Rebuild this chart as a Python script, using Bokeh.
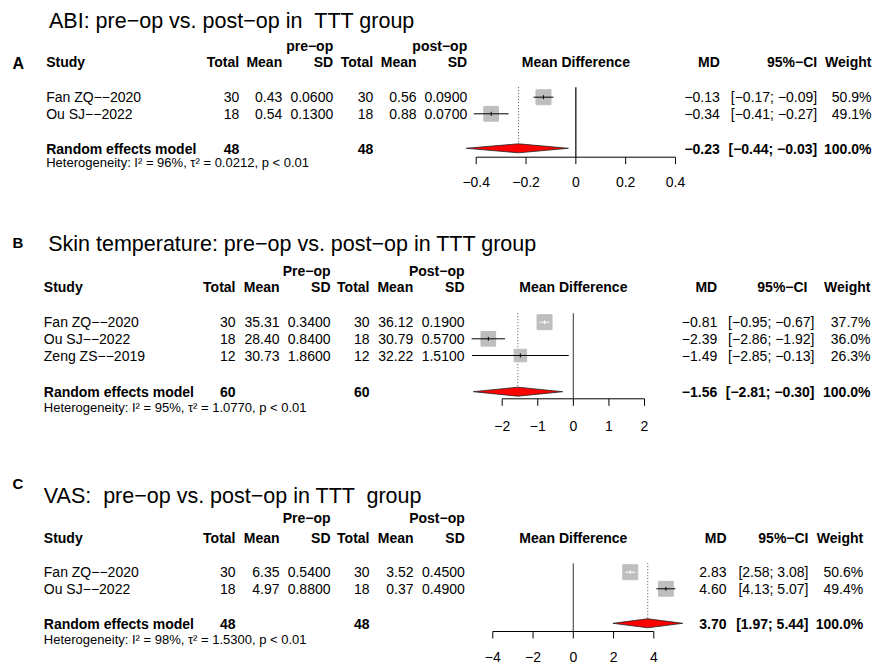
import math
from bokeh.plotting import figure
from bokeh.models import Range1d
from bokeh.core.properties import value
from bokeh.embed import file_html
from bokeh.resources import INLINE

M = "\u2212"  # minus sign as drawn by R
NB = "\u00a0"  # kept double spaces

# ---------------- data ----------------
# Panel A: ABI
A_title = f"ABI: pre{M}op vs. post{M}op in {NB}TTT group"
A_groups = [f"pre{M}op", f"post{M}op"]
A_study = [f"Fan ZQ{M}{M}2020", f"Ou SJ{M}{M}2022"]
A_pre_total = [30, 18]
A_pre_mean = [0.43, 0.54]
A_pre_sd = [0.0600, 0.1300]
A_post_total = [30, 18]
A_post_mean = [0.56, 0.88]
A_post_sd = [0.0900, 0.0700]
A_md = [-0.13, -0.34]
A_lo = [-0.17, -0.41]
A_hi = [-0.09, -0.27]
A_weight = [50.9, 49.1]
A_pooled = [-0.23, -0.44, -0.03]
A_totals = [48, 48]
A_i2, A_tau2 = 96, 0.0212
A_ticks = [-0.4, -0.2, 0, 0.2, 0.4]

# Panel B: Skin temperature
B_title = f"Skin temperature: pre{M}op vs. post{M}op in TTT group"
B_groups = [f"Pre{M}op", f"Post{M}op"]
B_study = [f"Fan ZQ{M}{M}2020", f"Ou SJ{M}{M}2022", f"Zeng ZS{M}{M}2019"]
B_pre_total = [30, 18, 12]
B_pre_mean = [35.31, 28.40, 30.73]
B_pre_sd = [0.3400, 0.8400, 1.8600]
B_post_total = [30, 18, 12]
B_post_mean = [36.12, 30.79, 32.22]
B_post_sd = [0.1900, 0.5700, 1.5100]
B_md = [-0.81, -2.39, -1.49]
B_lo = [-0.95, -2.86, -2.85]
B_hi = [-0.67, -1.92, -0.13]
B_weight = [37.7, 36.0, 26.3]
B_pooled = [-1.56, -2.81, -0.30]
B_totals = [60, 60]
B_i2, B_tau2 = 95, 1.0770
B_ticks = [-2, -1, 0, 1, 2]

# Panel C: VAS
C_title = f"VAS: {NB}pre{M}op vs. post{M}op in TTT {NB}group"
C_groups = [f"Pre{M}op", f"Post{M}op"]
C_study = [f"Fan ZQ{M}{M}2020", f"Ou SJ{M}{M}2022"]
C_pre_total = [30, 18]
C_pre_mean = [6.35, 4.97]
C_pre_sd = [0.5400, 0.8800]
C_post_total = [30, 18]
C_post_mean = [3.52, 0.37]
C_post_sd = [0.4500, 0.4900]
C_md = [2.83, 4.60]
C_lo = [2.58, 4.13]
C_hi = [3.08, 5.07]
C_weight = [50.6, 49.4]
C_pooled = [3.70, 1.97, 5.44]
C_totals = [48, 48]
C_i2, C_tau2 = 98, 1.5300
C_ticks = [-4, -2, 0, 2, 4]

headers = ["Study", "Total", "Mean", "SD", "Total", "Mean", "SD",
           "Mean Difference", "MD", f"95%{M}CI", "Weight"]

# ---------------- layout (pixel positions) ----------------
LAY = {
    "A": dict(label_base=67.5, label_size="16px", title_x=48.5, title_base=26.0, group_base=50.0,
              head_base=66.7, row_base=[101.7, 118.3], re_base=153.3, het_base=167.0,
              axis_y=156.7, tick_base=186.7, zero_top=86.7, zero_px=575.35, px_unit=249.1,
              study_x=45.7, cols=[238.7, 281.7, 332.7, 372.7, 416.0, 466.7],
              md_x=719.3, ci_x=816.7, ci_head_x=816.7, wt_x=871.0, zero_col="#000000"),
    "B": dict(label_base=247.0, label_size="15px", title_x=47.7, title_base=249.5, group_base=275.0,
              head_base=291.7, row_base=[326.7, 343.3, 360.0], re_base=396.7, het_base=411.5,
              axis_y=398.3, tick_base=430.0, zero_top=312.7, zero_px=572.85, px_unit=35.575,
              study_x=43.3, cols=[235.0, 279.0, 330.0, 369.0, 412.7, 464.0],
              md_x=716.7, ci_x=814.0, ci_head_x=807.0, wt_x=870.0, zero_col="#555555"),
    "C": dict(label_base=488.0, label_size="15px", title_x=43.3, title_base=501.7, group_base=522.0,
              head_base=542.0, row_base=[576.7, 593.3], re_base=628.3, het_base=644.0,
              axis_y=631.0, tick_base=661.0, zero_top=562.7, zero_px=572.8, px_unit=20.125,
              study_x=43.3, cols=[235.0, 279.0, 330.0, 369.0, 413.0, 464.3],
              md_x=726.0, ci_x=808.0, ci_head_x=808.0, wt_x=862.7, zero_col="#555555"),
}
PW, PH = 875, 664
TEXT_DY = -5.0     # renderer offset correction for text baselines
TITLE_DY = -6.0

panels = [
    ("A", A_title, A_groups, A_study, A_pre_total, A_pre_mean, A_pre_sd, A_post_total,
     A_post_mean, A_post_sd, A_md, A_lo, A_hi, A_weight, A_pooled, A_totals, A_i2, A_tau2, A_ticks),
    ("B", B_title, B_groups, B_study, B_pre_total, B_pre_mean, B_pre_sd, B_post_total,
     B_post_mean, B_post_sd, B_md, B_lo, B_hi, B_weight, B_pooled, B_totals, B_i2, B_tau2, B_ticks),
    ("C", C_title, C_groups, C_study, C_pre_total, C_pre_mean, C_pre_sd, C_post_total,
     C_post_mean, C_post_sd, C_md, C_lo, C_hi, C_weight, C_pooled, C_totals, C_i2, C_tau2, C_ticks),
]

FONT = value("Liberation Sans")
BODY = "14px"
SQ_MAX = 15.0
SQ_COL = "#bebebe"


def f(v, d):
    return f"{v:.{d}f}".replace("-", M)


def tick_label(v):
    return "0" if v == 0 else f"{v:g}".replace("-", M)


p = figure(width=PW, height=PH, x_range=Range1d(0, PW), y_range=Range1d(PH, 0),
           output_backend="svg", toolbar_location=None, x_axis_type=None, y_axis_type=None)
p.min_border = 0
p.grid.visible = False
p.outline_line_color = None
p.background_fill_color = "white"
p.border_fill_color = "white"

p.extra_x_ranges = {
    k: Range1d((0 - L["zero_px"]) / L["px_unit"], (PW - L["zero_px"]) / L["px_unit"])
    for k, L in LAY.items()
}


def text(xs, ys, ts, align="left", size=BODY, bold=False, rn="default", dy=TEXT_DY):
    p.text(x=xs, y=[y + dy for y in ys], text=ts, text_align=align, text_baseline="alphabetic",
           text_font=FONT, text_font_size=size, text_font_style="bold" if bold else "normal",
           text_color="black", x_range_name=rn)


for (key, title, groups, study, pre_t, pre_m, pre_s, post_t, post_m, post_s,
     md, lo, hi, wt, pooled, totals, i2, tau2, ticks) in panels:
    L = LAY[key]
    n = len(study)
    rb = L["row_base"]
    cols = L["cols"]

    # panel letter and title
    text([12], [L["label_base"]], [key], size=L["label_size"], bold=True)
    text([L["title_x"]], [L["title_base"]], [title], size="21.5px", dy=TITLE_DY)

    # group headers
    text([cols[2], cols[5]], [L["group_base"]] * 2, groups, align="right", bold=True)
    # column headers
    text([L["study_x"]], [L["head_base"]], [headers[0]], bold=True)
    text(cols, [L["head_base"]] * 6, headers[1:7], align="right", bold=True)
    text([0], [L["head_base"]], [headers[7]], align="center", bold=True, rn=key)
    text([L["md_x"], L["ci_head_x"], L["wt_x"]], [L["head_base"]] * 3, headers[8:],
         align="right", bold=True)

    # study rows
    text([L["study_x"]] * n, rb, study)
    text([cols[0]] * n, rb, [str(v) for v in pre_t], align="right")
    text([cols[1]] * n, rb, [f(v, 2) for v in pre_m], align="right")
    text([cols[2]] * n, rb, [f(v, 4) for v in pre_s], align="right")
    text([cols[3]] * n, rb, [str(v) for v in post_t], align="right")
    text([cols[4]] * n, rb, [f(v, 2) for v in post_m], align="right")
    text([cols[5]] * n, rb, [f(v, 4) for v in post_s], align="right")
    text([L["md_x"]] * n, rb, [f(v, 2) for v in md], align="right")
    text([L["ci_x"]] * n, rb, [f"[{f(a, 2)}; {f(b, 2)}]" for a, b in zip(lo, hi)], align="right")
    text([L["wt_x"]] * n, rb, [f"{w:.1f}%" for w in wt], align="right")

    # pooled row
    re = L["re_base"]
    text([L["study_x"]], [re], ["Random effects model"], bold=True)
    text([cols[0], cols[3]], [re, re], [str(t) for t in totals], align="right", bold=True)
    text([L["md_x"]], [re], [f(pooled[0], 2)], align="right", bold=True)
    text([L["ci_x"]], [re], [f"[{f(pooled[1], 2)}; {f(pooled[2], 2)}]"], align="right", bold=True)
    text([L["wt_x"]], [re], ["100.0%"], align="right", bold=True)
    text([L["study_x"]], [L["het_base"]],
         [f"Heterogeneity: I\u00b2 = {i2}%, \u03c4\u00b2 = {tau2:.4f}, p < 0.01"], size="13px")

    # forest part
    yc = [b - 5 for b in rb]
    dy = re - 5.5
    half = 4.5
    p.segment(x0=[0], y0=[L["zero_top"]], x1=[0], y1=[L["axis_y"]],
              line_color=L["zero_col"], line_width=1.2, x_range_name=key)
    p.segment(x0=[pooled[0]], y0=[L["zero_top"]], x1=[pooled[0]], y1=[dy - half],
              line_color="#555555", line_width=1, line_dash="1 2", x_range_name=key)
    wmax = max(wt)
    sizes = [SQ_MAX * math.sqrt(w / wmax) for w in wt]
    p.scatter(x=md, y=yc, size=sizes, marker="square", fill_color=SQ_COL,
              line_color=SQ_COL, x_range_name=key)
    ci_col = ["white" if (b - a) * L["px_unit"] < s else "black"
              for a, b, s in zip(lo, hi, sizes)]
    p.segment(x0=lo, y0=yc, x1=hi, y1=yc, line_color=ci_col, line_width=1, x_range_name=key)
    p.segment(x0=md, y0=[y - 2 for y in yc], x1=md, y1=[y + 2 for y in yc],
              line_color=ci_col, line_width=1, x_range_name=key)
    p.patch(x=[pooled[1], pooled[0], pooled[2], pooled[0]],
            y=[dy, dy - half, dy, dy + half],
            fill_color="red", line_color="#222222", line_width=0.8, x_range_name=key)
    ay = L["axis_y"]
    p.segment(x0=[ticks[0]], y0=[ay], x1=[ticks[-1]], y1=[ay],
              line_color="black", line_width=1, x_range_name=key)
    p.segment(x0=ticks, y0=[ay] * len(ticks), x1=ticks, y1=[ay + 7] * len(ticks),
              line_color="black", line_width=1, x_range_name=key)
    text(ticks, [L["tick_base"]] * len(ticks), [tick_label(t) for t in ticks],
         align="center", rn=key)

open("out.html", "w").write(file_html(p, INLINE))
